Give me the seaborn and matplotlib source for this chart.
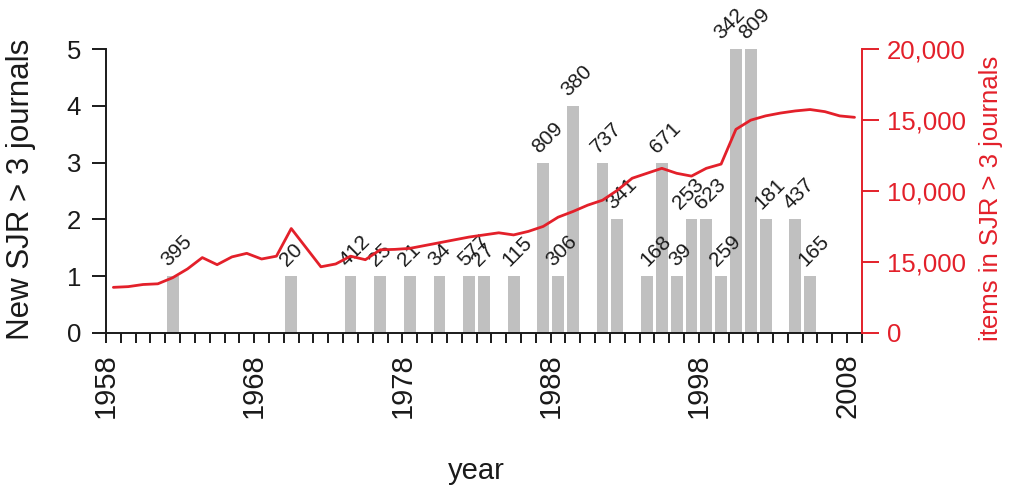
import numpy as np
import pandas as pd
import seaborn as sns
import matplotlib
matplotlib.use("Agg")
from matplotlib import pyplot as plt

# years with new SJR > 3 journals, how many, and the label written over each bar
bar_years = [1962, 1970, 1974, 1976, 1978, 1980, 1982, 1983, 1985, 1987, 1988, 1989,
             1991, 1992, 1994, 1995, 1996, 1997, 1998, 1999, 2000, 2001, 2002, 2004, 2005]
bar_counts = [1, 1, 1, 1, 1, 1, 1, 1, 1, 3, 1, 4,
              3, 2, 1, 3, 1, 2, 2, 1, 5, 5, 2, 2, 1]
bar_labels = ["395", "20", "412", "25", "21", "34", "577", "27", "115", "809", "306", "380",
              "737", "341", "168", "671", "39", "253", "623", "259", "342", "809", "181", "437", "165"]

# items in SJR > 3 journals per year (red line, right axis)
line_years = list(range(1958, 2009))
line_items = [3200, 3250, 3400, 3450, 3880, 4500, 5300, 4800, 5350, 5600,
              5200, 5400, 7350, 6000, 4650, 4850, 5400, 5150, 5850, 5880,
              5950, 6150, 6350, 6550, 6750, 6900, 7050, 6900, 7150, 7500,
              8150, 8550, 9000, 9350, 10050, 10900, 11250, 11600, 11250, 11050,
              11600, 11900, 14350, 15000, 15300, 15500, 15650, 15750, 15600, 15300,
              15200]

right_ticks = [0, 5000, 10000, 15000, 20000]
right_ticklabels = ["0", "15,000", "10,000", "15,000", "20,000"]

# a few labels were nudged sideways in the original
label_nudge = {"253": -0.5, "342": -0.7, "168": 0.3, "39": 0.3}

red = "#e3202a"
grey_bar = "#c0c0c0"

sns.set_style("ticks")
plt.rcParams["font.family"] = ["Liberation Sans", "DejaVu Sans"]

fig = plt.figure(figsize=(10.12, 4.92), dpi=100)
ax = fig.add_axes([0.1047, 0.3238, 0.7470, 0.5760])

# each year is the bin [year, year+1); bars sit in the middle of their bin
bars = pd.DataFrame({"mid": np.array(bar_years) + 0.5, "n": bar_counts})
sns.barplot(data=bars, x="mid", y="n", native_scale=True, width=0.8,
            color=grey_bar, saturation=1, errorbar=None, linewidth=0, ax=ax)

for yr, n, lab in zip(bar_years, bar_counts, bar_labels):
    ax.text(yr + 0.2 + label_nudge.get(lab, 0), n + 0.16, lab, rotation=45,
            rotation_mode="anchor", ha="left", va="baseline",
            fontsize=15, color="#1a1a1a")

ax.set_xlim(1958, 2009)
ax.set_ylim(0, 5)
ax.set_xticks(np.arange(1958, 2009, 10))
ax.set_xticks(np.arange(1958, 2010), minor=True)
ax.set_xticklabels([str(y) for y in range(1958, 2009, 10)], rotation=90)
ax.set_yticks(range(0, 6))
ax.tick_params(axis="x", which="both", direction="out", length=7, width=1.4,
               pad=8, labelsize=21, color="#1a1a1a", labelcolor="#1a1a1a")
ax.tick_params(axis="y", direction="out", length=10, width=1.4, pad=8,
               labelsize=18.5, color="#1a1a1a", labelcolor="#1a1a1a")
for s in ["top", "right"]:
    ax.spines[s].set_visible(False)
for s in ["left", "bottom"]:
    ax.spines[s].set_linewidth(1.4)
    ax.spines[s].set_color("#1a1a1a")

ax.set_ylabel("New SJR > 3 journals", fontsize=22.5, color="#1a1a1a")
ax.yaxis.set_label_coords(-0.092, 0.505)
ax.set_xlabel("year", fontsize=21, color="#1a1a1a")
ax.xaxis.set_label_coords(0.49, -0.44)

ax2 = ax.twinx()
sns.lineplot(x=np.array(line_years) + 0.5, y=line_items, color=red,
             linewidth=2, ax=ax2)
ax2.set_ylim(0, 20000)
ax2.set_yticks(right_ticks)
ax2.set_yticklabels(right_ticklabels)
ax2.tick_params(axis="y", direction="out", length=12, width=1.4, pad=6,
                labelsize=18.5, color=red, labelcolor=red)
for s in ["top", "left", "bottom"]:
    ax2.spines[s].set_visible(False)
ax2.spines["right"].set_color(red)
ax2.spines["right"].set_linewidth(1.4)
ax2.set_ylabel("items in SJR > 3 journals", fontsize=18.5, color=red)
ax2.yaxis.set_label_coords(1.155, 0.475)

fig.savefig("out.png", dpi=100)
